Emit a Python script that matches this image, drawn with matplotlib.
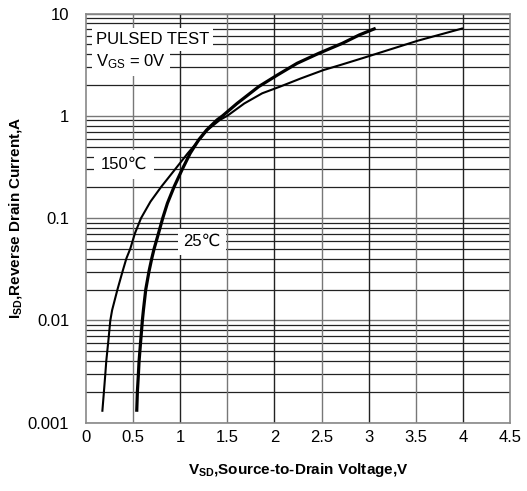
import matplotlib
matplotlib.use("Agg")
import matplotlib.pyplot as plt
from matplotlib.ticker import LogLocator, FixedLocator, NullFormatter

plt.rcParams['font.family'] = ['Liberation Sans', 'DejaVu Sans']
plt.rcParams['mathtext.fontset'] = 'custom'
plt.rcParams['mathtext.rm'] = 'Liberation Sans'
plt.rcParams['mathtext.bf'] = 'Liberation Sans:bold'

# 25 C curve (thick)
v_25 = [0.539, 0.546, 0.557, 0.564, 0.582, 0.599, 0.61, 0.635, 0.67, 0.699,
        0.723, 0.77, 0.815, 0.865, 0.936, 1.018, 1.106, 1.195, 1.28, 1.39,
        1.45, 1.603, 1.833, 2.03, 2.24, 2.47, 2.72, 2.90, 3.074]
i_25 = [0.00128, 0.002, 0.003, 0.004, 0.00643, 0.01, 0.0126, 0.0201, 0.0304, 0.0405,
        0.05, 0.071, 0.1, 0.14, 0.203, 0.295, 0.43, 0.58, 0.726, 0.91,
        1.0, 1.32, 1.93, 2.50, 3.26, 4.08, 5.11, 6.17, 7.17]

# 150 C curve (thin)
v_150 = [0.174, 0.191, 0.206, 0.216, 0.239, 0.259, 0.278, 0.335, 0.39, 0.43,
         0.47, 0.52, 0.585, 0.685, 0.80, 0.94, 1.08, 1.20, 1.29, 1.42,
         1.50, 1.68, 1.87, 2.06, 2.28, 2.52, 2.70, 2.93, 3.52, 4.0]
i_150 = [0.00128, 0.002, 0.003, 0.004, 0.00643, 0.01, 0.0126, 0.0201, 0.0304, 0.0405,
         0.05, 0.071, 0.1, 0.145, 0.203, 0.295, 0.43, 0.58, 0.726, 0.91,
         1.0, 1.32, 1.66, 1.93, 2.32, 2.80, 3.14, 3.65, 5.42, 7.17]

x_ticks = [0, 0.5, 1, 1.5, 2, 2.5, 3, 3.5, 4, 4.5]
x_ticklabels = ['0', '0.5', '1', '1.5', '2', '2.5', '3', '3.5', '4', '4.5']
y_ticks = [0.001, 0.01, 0.1, 1, 10]
y_ticklabels = ['0.001', '0.01', '0.1', '1', '10']

fig = plt.figure(figsize=(5.27, 4.91), dpi=100)
ax = fig.add_axes([0.163, 0.139, 0.805, 0.8335])

ax.set_yscale('log')
ax.set_xlim(0, 4.5)
ax.set_ylim(0.001, 10)

# grid
ax.xaxis.set_major_locator(FixedLocator(x_ticks))
ax.set_xticklabels(x_ticklabels)
ax.yaxis.set_major_locator(FixedLocator(y_ticks))
ax.set_yticklabels(y_ticklabels)
ax.yaxis.set_minor_locator(LogLocator(base=10, subs=range(2, 10)))
ax.yaxis.set_minor_formatter(NullFormatter())
ax.grid(True, which='major', axis='y', color='#777777', lw=1.0)
ax.grid(True, which='minor', axis='y', color='#222222', lw=0.9)
for xv in x_ticks[1:-1]:
    ax.axvline(xv, color='#222222' if xv == int(xv) else '#777777', lw=1.0, zorder=1)
ax.tick_params(axis='x', which='both', length=0, labelsize=12, pad=5)
ax.tick_params(axis='y', which='both', length=0, labelsize=12, pad=12)
ax.set_axisbelow(True)
for s in ax.spines.values():
    s.set_color('#888888')
    s.set_linewidth(1.2)

ax.plot(v_25, i_25, color='black', lw=2.3, solid_capstyle='butt', zorder=3)
ax.plot(v_150, i_150, color='black', lw=1.5, solid_capstyle='butt', zorder=3)

box = dict(facecolor='white', edgecolor='none', pad=3)
ax.text(0.105, 5.6, 'PULSED TEST', fontsize=12, va='center', ha='left',
        bbox=box, zorder=4)
ax.text(0.105, 3.35, r'$\mathrm{V_{GS}}$ = 0V', fontsize=12, va='center', ha='left',
        bbox=box, zorder=4)
ax.text(0.16, 0.335, '150℃', fontsize=12, va='center', ha='left',
        bbox=dict(facecolor='white', edgecolor='none', pad=5), zorder=4)
ax.text(1.03, 0.059, '25℃', fontsize=12, va='center', ha='left',
        bbox=dict(facecolor='white', edgecolor='none', pad=4), zorder=4)

ax.set_xlabel(r'$\mathbf{V_{SD}}$,Source-to-Drain Voltage,V', fontsize=11,
              fontweight='bold', labelpad=12)
ax.set_ylabel(r'$\mathbf{I_{SD}}$,Reverse Drain Current,A', fontsize=11,
              fontweight='bold', labelpad=3)

fig.savefig('out.png', dpi=100)
